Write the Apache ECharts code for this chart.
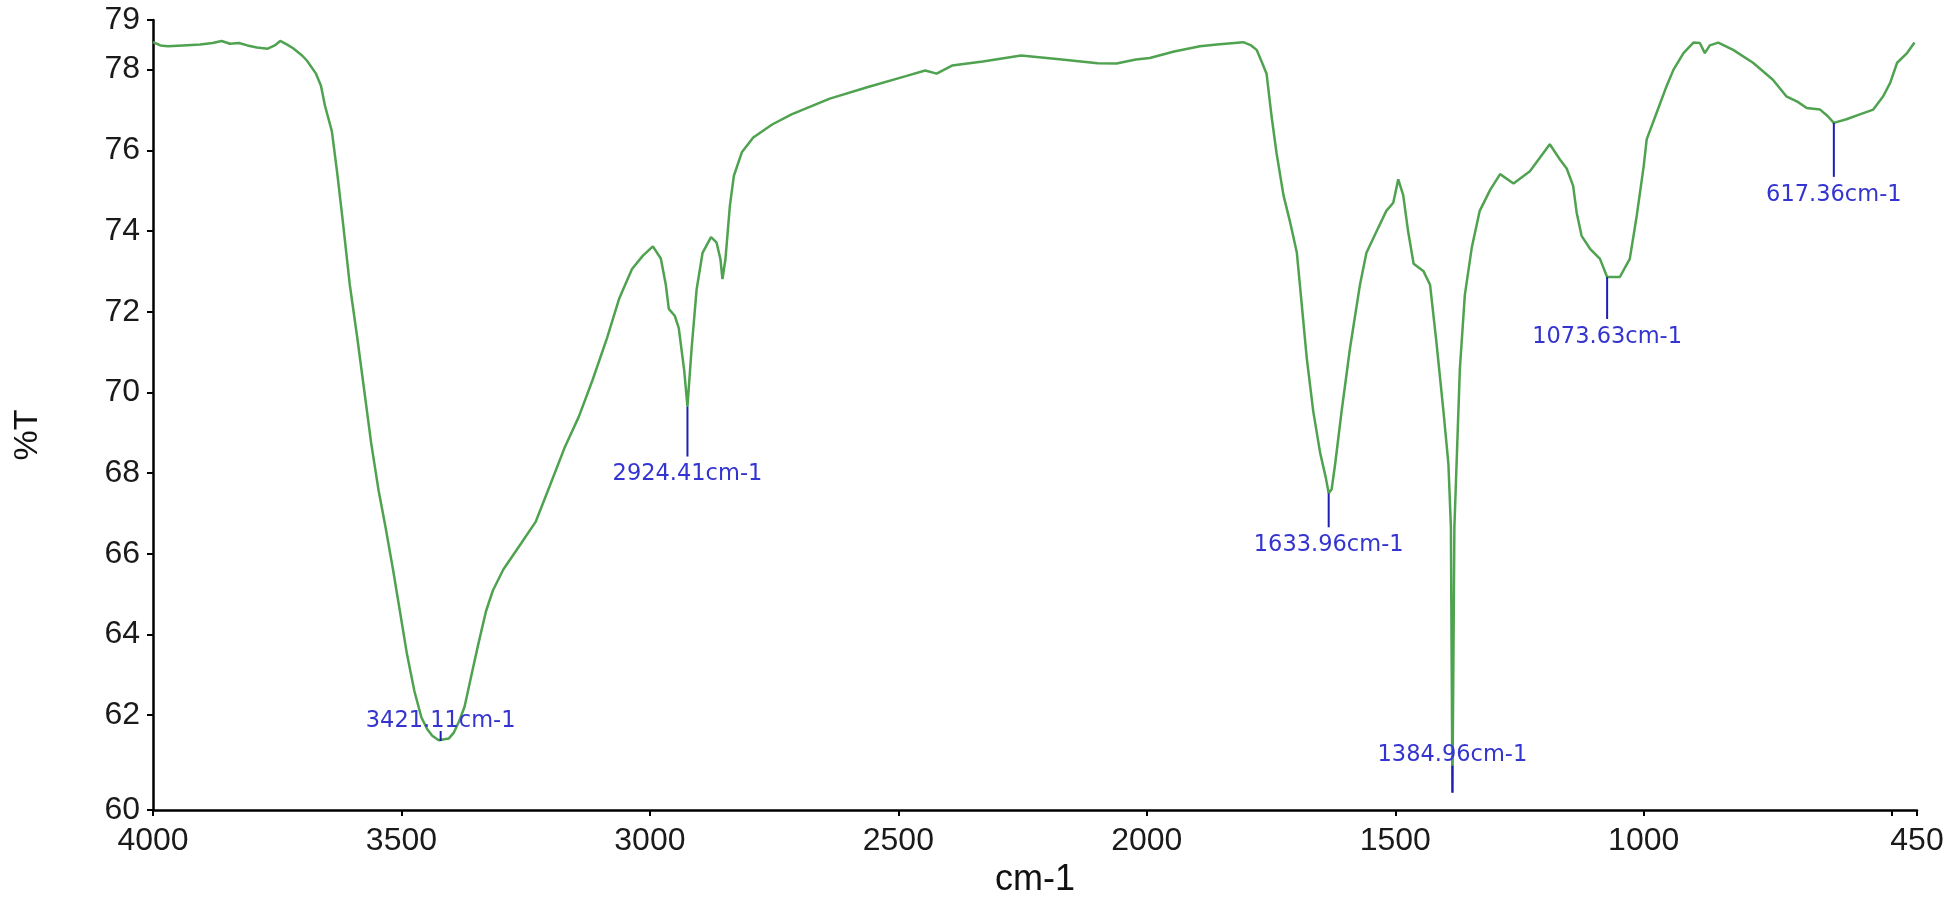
<!DOCTYPE html>
<html>
<head>
<meta charset="utf-8">
<script src="https://cdn.jsdelivr.net/npm/echarts@6/dist/echarts.min.js"></script>
<style>
html,body{margin:0;padding:0;background:#fff;}
#chart{width:1950px;height:903px;}
</style>
</head>
<body>
<div id="chart"></div>
<script>
// Wavenumber (cm-1) and transmittance (%T)
const wavenumbers = [
 4000,3985,3970,3940,3905,3880,3862,3845,3827,3810,3791,3769,3755,3744,3730,3718,3700,3690,3672,3662,
 3654,3640,3629,3618,3604,3589,3575,3561,3546,3532,3517,3503,3489,3474,3460,3448,3438,3425,3421.11,3405,
 3395,3384,3373,3359,3345,3330,3316,3295,3259,3230,3201,3172,3143,3115,3086,3062,3036,3014,2994,2978,
 2968,2962,2950,2942,2931,2924.41,2916,2906,2894,2877,2866,2858,2854,2848,2839,2831,2815,2792,2754,2715,
 2638,2561,2485,2446,2423,2392,2330,2253,2176,2099,2061,2022,1994,1945,1893,1859,1806,1790,1779,1769,
 1759,1749,1739,1725,1712,1698,1688,1678,1665,1651,1640,1633.96,1628,1621,1608,1591,1571,1558,1538,1518,
 1504,1494,1484,1474,1463,1443,1430,1417,1403,1393,1388,1384.96,1381,1370,1360,1346,1330,1309,1289,1262,
 1229,1189,1169,1155,1142,1135,1125,1108,1088,1073.63,1048,1028,1014,1000,994,974,954,940,920,900,
 887,877,867,850,820,780,740,713,690,672,645,630,617.36,592,565,538,518,504,490,470,
 455
];
const transmittance = [
 78.68,78.60,78.58,78.60,78.62,78.66,78.71,78.64,78.66,78.60,78.55,78.52,78.60,78.71,78.62,78.53,78.35,78.22,77.90,77.60,
 77.11,76.47,75.41,74.24,72.67,71.36,70.06,68.75,67.57,66.66,65.61,64.57,63.52,62.60,61.95,61.65,61.49,61.38,61.36,61.42,
 61.56,61.85,62.21,63.00,63.78,64.57,65.09,65.61,66.26,66.79,67.70,68.62,69.40,70.32,71.36,72.32,73.06,73.39,73.62,73.32,
 72.67,72.07,71.90,71.60,70.55,69.65,71.10,72.55,73.46,73.85,73.72,73.30,72.81,73.30,74.63,75.37,75.95,76.32,76.64,76.89,
 77.28,77.57,77.84,77.98,77.90,78.10,78.20,78.35,78.26,78.16,78.15,78.25,78.29,78.45,78.58,78.62,78.68,78.60,78.49,78.20,
 77.90,76.85,75.94,74.89,74.24,73.46,72.15,70.84,69.53,68.49,67.90,67.50,67.60,68.22,69.53,71.10,72.67,73.46,73.98,74.50,
 74.70,75.28,74.89,73.98,73.19,73.00,72.67,71.23,69.53,68.22,66.66,60.08,66.66,70.58,72.41,73.59,74.50,75.02,75.41,75.18,
 75.48,76.15,75.78,75.55,75.12,74.46,73.88,73.56,73.31,72.86,72.86,73.31,74.38,75.61,76.27,76.93,77.59,78.00,78.41,78.67,
 78.66,78.41,78.60,78.67,78.49,78.17,77.75,77.34,77.20,77.05,77.01,76.85,76.68,76.77,76.89,77.01,77.34,77.67,78.17,78.41,
 78.67
];

// Axis ticks and labels
const xMin = 450, xMax = 4000;
const xTickValues = [4000, 3500, 3000, 2500, 2000, 1500, 1000, 500, 450];
const xLabelValues = [4000, 3500, 3000, 2500, 2000, 1500, 1000, 450];
const yMin = 59.65, yMax = 79.23;
const yTickValues = [59.65, 62, 64, 66, 68, 70, 72, 74, 76, 78, 79.23];

// Peak annotations
const peakWavenumbers = [3421.11, 2924.41, 1633.96, 1384.96, 1073.63, 617.36];
const peakTransmittance = [61.36, 69.65, 67.50, 60.08, 72.86, 76.68];
const peakLabels = ['3421.11cm-1', '2924.41cm-1', '1633.96cm-1', '1384.96cm-1', '1073.63cm-1', '617.36cm-1'];

// styling of the leader lines (px, negative = label above the peak)
const leaderLength = [-10, 50, 34, -27, 42, 54];

const chart = echarts.init(document.getElementById('chart'), null, {renderer: 'canvas'});
const axisFont = '"Liberation Sans", Arial, sans-serif';

chart.setOption({
  animation: false,
  backgroundColor: '#ffffff',
  grid: {left: 153, right: 33, top: 20, bottom: 90, containLabel: false},
  xAxis: {
    type: 'value', inverse: true, min: xMin, max: xMax,
    name: 'cm-1', nameLocation: 'middle', nameGap: 52,
    nameTextStyle: {fontFamily: axisFont, fontSize: 36, color: '#111'},
    axisLine: {show: true, onZero: false, lineStyle: {color: '#000', width: 2.5}},
    axisTick: {show: true, length: 6, customValues: xTickValues, lineStyle: {color: '#000', width: 2}},
    axisLabel: {customValues: xLabelValues, margin: 15, fontFamily: axisFont, fontSize: 32, color: '#1a1a1a',
      formatter: v => String(v)},
    splitLine: {show: false}
  },
  yAxis: {
    type: 'value', min: yMin, max: yMax,
    name: '%T', nameLocation: 'middle', nameGap: 108, nameRotate: 90,
    nameTextStyle: {fontFamily: axisFont, fontSize: 34, color: '#111', padding: [0, 40, 0, 0]},
    axisLine: {show: true, onZero: false, lineStyle: {color: '#000', width: 2.5}},
    axisTick: {show: true, length: 6, customValues: yTickValues, lineStyle: {color: '#000', width: 2}},
    axisLabel: {customValues: yTickValues, margin: 13, fontFamily: axisFont, fontSize: 32, color: '#1a1a1a',
      formatter: v => String(Math.round(v))},
    splitLine: {show: false}
  },
  series: [
    {
      type: 'line',
      data: wavenumbers.map((w, i) => [w, transmittance[i]]),
      showSymbol: false,
      lineStyle: {color: '#4fa24f', width: 2.5},
      z: 2
    },
    {
      type: 'custom',
      clip: false,
      z: 3,
      data: peakWavenumbers.map((w, i) => [w, peakTransmittance[i]]),
      renderItem: function (params, api) {
        const i = params.dataIndex;
        const p = api.coord([api.value(0), api.value(1)]);
        const len = leaderLength[i];
        const endY = p[1] + len;
        const ty = len >= 0 ? endY + 18 : endY - 10;
        return {
          type: 'group',
          children: [
            {type: 'line', shape: {x1: p[0], y1: p[1], x2: p[0], y2: endY},
             style: {stroke: '#1f1fb4', lineWidth: 2}},
            {type: 'text', x: p[0], y: ty,
             style: {text: peakLabels[i], fill: '#3434d0', font: '22.5px "DejaVu Sans", Verdana, sans-serif',
                     align: 'center', verticalAlign: 'middle'}}
          ]
        };
      }
    }
  ]
});
</script>
</body>
</html>
